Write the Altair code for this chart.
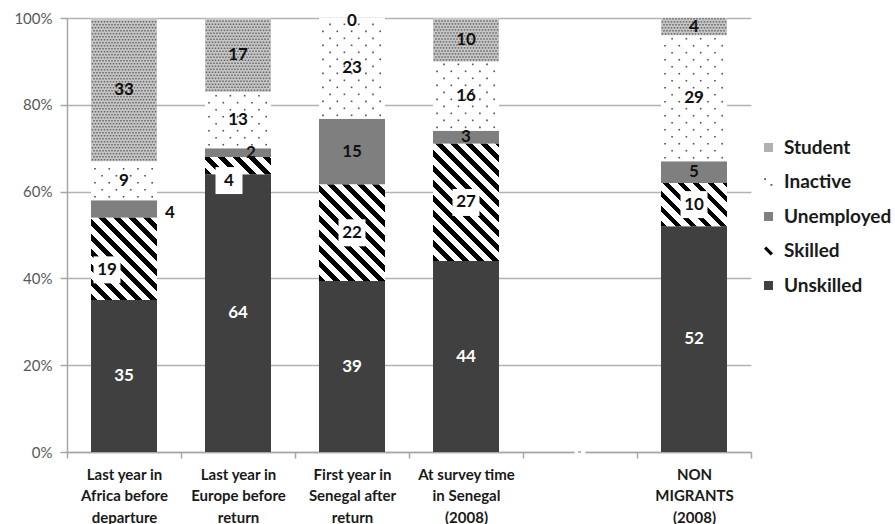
import json
import altair as alt
import pandas as pd

# x-axis slots: an empty slot separates the returnees from the non-migrants
slot_titles = [
    ["Last year in", "Africa before", "departure"],
    ["Last year in", "Europe before", "return"],
    ["First year in", "Senegal after", "return"],
    ["At survey time", "in Senegal", "(2008)"],
    [""],
    ["NON", "MIGRANTS", "(2008)"],
]

# occupational status, stacked from the bottom up
classes = ["Unskilled", "Skilled", "Unemployed", "Inactive", "Student"]
unskilled = [35, 64, 39, 44, 52]
skilled = [19, 4, 22, 27, 10]
unemployed = [4, 2, 15, 3, 5]
inactive = [9, 13, 23, 16, 29]
student = [33, 17, 0, 10, 4]
series = dict(zip(classes, [unskilled, skilled, unemployed, inactive, student]))

legend_order = ["Student", "Inactive", "Unemployed", "Skilled", "Unskilled"]

# plot geometry (pixels)
W, H = 684, 434
N_SLOTS = len(slot_titles)
SLOT = W / N_SLOTS
BAR_W = 66
HALF = BAR_W / 2 / SLOT
FONT = "Lato"

bar_slots = [i for i, t in enumerate(slot_titles) if t != [""]]
gap_slots = [i for i, t in enumerate(slot_titles) if t == [""]]

rows = []
for i, slot in enumerate(bar_slots):
    for k, cls in enumerate(classes):
        rows.append({"ci": i, "pos": slot + 0.5, "cls": cls, "order": k,
                     "value": series[cls][i], "key": f"{i}|{cls}"})
df = pd.DataFrame(rows)

x_scale = alt.Scale(domain=[0, N_SLOTS], nice=False, zero=False)
y_scale = alt.Scale(domain=[0, 1], nice=False)

titles_expr = json.dumps(slot_titles + [[""]])
x_axis = alt.Axis(
    values=list(range(N_SLOTS + 1)),
    labelExpr=f"{titles_expr}[round(datum.value)]",
    labelOffset=SLOT / 2, labelFlush=False, labelOverlap=False, labelBound=False,
    labelAlign="center", labelBaseline="top", labelPadding=9,
    labelFont=FONT, labelFontWeight="bold", labelFontSize=15, labelLineHeight=21.5,
    labelColor="#1a1a1a", tickSize=6, tickColor="#a6a6a6", tickWidth=1.5,
    domainColor="#a6a6a6", domainWidth=1.5, grid=False, title=None,
)
y_axis = alt.Axis(
    values=[0, 0.2, 0.4, 0.6, 0.8, 1.0], format=".0%",
    labelFont=FONT, labelFontSize=15, labelColor="#595959", labelPadding=8,
    tickSize=7, tickColor="#a6a6a6", tickWidth=1.5,
    domainColor="#a6a6a6", domainWidth=1.5,
    gridColor="#b3b3b3", gridWidth=1.5, title=None,
)

base = alt.Chart(df).transform_stack(
    stack="value", groupby=["ci"], as_=["y0", "y1"], offset="normalize",
    sort=[alt.SortField("order", order="ascending")],
).transform_calculate(
    xa=f"datum.pos - {HALF}", xb=f"datum.pos + {HALF}"
)

def bar_enc(chart):
    return chart.encode(
        x=alt.X("xa:Q", scale=x_scale, axis=x_axis), x2="xb:Q",
        y=alt.Y("y0:Q", scale=y_scale, axis=y_axis), y2="y1:Q",
    )

solid_fill = {"Unskilled": "#404040", "Unemployed": "#7f7f7f",
              "Inactive": "#ffffff", "Student": "#c6c6c6"}

layers = []
for cls in ["Unskilled", "Unemployed", "Inactive", "Student"]:
    layers.append(bar_enc(base.transform_filter(alt.datum.cls == cls)
                          .mark_bar(fill=solid_fill[cls], stroke=None)))


def stripe_gradient(w, h, period=15.0, ink=0.42):
    """Diagonal '\\' hatching as a hard-stop linear gradient in bbox units."""
    span = w + h
    gx = span * w / (w * w + h * h)
    gy = -span * h / (w * w + h * h)
    stops = []
    k = 0
    while k * period < span:
        s = min(k * period / span, 1.0)
        e = min((k + ink) * period / span, 1.0)
        n = min((k + 1) * period / span, 1.0)
        stops += [{"offset": s, "color": "#000000"}, {"offset": e, "color": "#000000"},
                  {"offset": e, "color": "#ffffff"}, {"offset": n, "color": "#ffffff"}]
        k += 1
    return {"gradient": "linear", "x1": 0, "y1": 1, "x2": gx, "y2": 1 + gy, "stops": stops}


# skilled segments: one hatched layer per bar so the stripes keep a 45 degree angle
for i in range(len(bar_slots)):
    total = sum(series[c][i] for c in classes)
    h_px = skilled[i] / total * H
    grad = stripe_gradient(BAR_W, h_px)
    layers.append(bar_enc(
        base.transform_filter((alt.datum.cls == "Skilled") & (alt.datum.ci == i))
        .mark_bar(fill=grad, stroke=None)
    ))


def dot_layer(cls, step_x, step_y, first_x, stagger, size, color):
    sy = step_y / H
    ncols = int(BAR_W / step_x) + 1
    return (
        base.transform_filter(alt.datum.cls == cls)
        .transform_calculate(ys=f"sequence(datum.y0 + {sy / 2}, datum.y1 - {sy / 4}, {sy})")
        .transform_flatten(["ys"])
        .transform_calculate(r=f"round((datum.ys - datum.y0) / {sy} - 0.5)",
                             xs=f"sequence(0, {ncols})")
        .transform_flatten(["xs"])
        .transform_calculate(xp=f"{first_x} + {step_x} * datum.xs + (datum.r % 2) * {stagger}")
        .transform_filter(f"datum.xp < {BAR_W - 1}")
        .transform_calculate(xd=f"datum.xa + datum.xp / {SLOT}")
        .mark_square(size=size, color=color, opacity=1)
        .encode(x=alt.X("xd:Q", scale=x_scale, axis=x_axis),
                y=alt.Y("ys:Q", scale=y_scale, axis=y_axis))
    )


layers.append(dot_layer("Student", 3, 3, 1.5, 1.5, 2.3, "#6a6a6a"))
layers.append(dot_layer("Inactive", 14.3, 7, 4, 7.1, 2.6, "#505050"))

# axis break drawn in the empty slot
gap_df = pd.DataFrame({"g": [s + 0.5 for s in gap_slots]})
gap_base = alt.Chart(gap_df)
layers.append(gap_base.transform_calculate(
    ga=f"datum.g - {5.5 / SLOT}", gb=f"datum.g + {5.5 / SLOT}"
).mark_rule(color="#ffffff", strokeWidth=4).encode(
    x=alt.X("ga:Q", scale=x_scale, axis=x_axis), x2="gb:Q", y=alt.value(H)
))
layers.append(gap_base.transform_calculate(
    ga=f"datum.g - {2 / SLOT}", gb=f"datum.g + {1 / SLOT}"
).mark_rule(color="#a6a6a6", strokeWidth=1.5).encode(
    x=alt.X("ga:Q", scale=x_scale, axis=x_axis), x2="gb:Q", y=alt.value(H)
))

# hand-placed data labels (pixel nudges: +x right, +y down)
nudges = {
    "0|Unemployed": (46, 4),
    "0|Skilled": (-17, 11),
    "1|Skilled": (-9, 15),
    "1|Unemployed": (13, 0),
    "2|Student": (0, 3),
}


def nudge_expr(idx):
    expr = "0"
    for key, d in nudges.items():
        expr = f"(datum.key == '{key}' ? {d[idx]} : {expr})"
    return expr


labels = base.transform_calculate(
    ym="(datum.y0 + datum.y1) / 2", ndx=nudge_expr(0), ndy=nudge_expr(1)
).transform_calculate(
    xl=f"datum.pos + datum.ndx / {SLOT}", yl=f"datum.ym - datum.ndy / {H}"
)

label_boxes = labels.transform_filter(alt.datum.cls == "Skilled").mark_square(
    size=27 * 27, color="#ffffff", opacity=1
).encode(
    x=alt.X("xl:Q", scale=x_scale, axis=x_axis),
    y=alt.Y("yl:Q", scale=y_scale, axis=y_axis),
)
label_text = labels.mark_text(
    font=FONT, fontWeight="bold", fontSize=17, align="center", baseline="middle"
).encode(
    x=alt.X("xl:Q", scale=x_scale, axis=x_axis),
    y=alt.Y("yl:Q", scale=y_scale, axis=y_axis),
    text=alt.Text("value:Q", format=".0f"),
    color=alt.condition("datum.cls == 'Unskilled'", alt.value("#ffffff"), alt.value("#111111")),
)
layers += [label_boxes, label_text]

# legend: an empty point layer carrying the fill/shape scales
legend_fills = ["#b0b0b0", "#555555", "#7f7f7f", "#000000", "#404040"]
legend_shapes = [
    "M-1,-1H1V1H-1Z",
    "M-0.95,-0.85h0.4v0.4h-0.4Z M0.45,0.45h0.4v0.4h-0.4Z",
    "M-1,-1H1V1H-1Z",
    "M-1,-0.5L-0.5,-1L1,0.5L0.5,1Z",
    "M-1,-1H1V1H-1Z",
]
legend_cfg = dict(
    title=None, orient="none", legendX=692, legendY=120,
    labelFont=FONT, labelFontSize=19, labelFontWeight="bold", labelColor="#1a1a1a",
    symbolSize=81, symbolStrokeWidth=0, rowPadding=14.5, labelOffset=6,
)
legend_layer = alt.Chart(df).transform_filter("false").mark_point(filled=True, opacity=1).encode(
    fill=alt.Fill("cls:N", scale=alt.Scale(domain=legend_order, range=legend_fills),
                  legend=alt.Legend(**legend_cfg)),
    shape=alt.Shape("cls:N", scale=alt.Scale(domain=legend_order, range=legend_shapes),
                    legend=alt.Legend(**legend_cfg)),
)
layers.append(legend_layer)

chart = alt.layer(*layers).properties(
    width=W, height=H,
    autosize=alt.AutoSizeParams(type="none"),
    padding={"left": 67, "top": 18, "right": 895 - 67 - W, "bottom": 524 - 18 - H},
).configure_view(stroke=None)

chart.save("out.html", embed_options={"renderer": "svg", "actions": False})
